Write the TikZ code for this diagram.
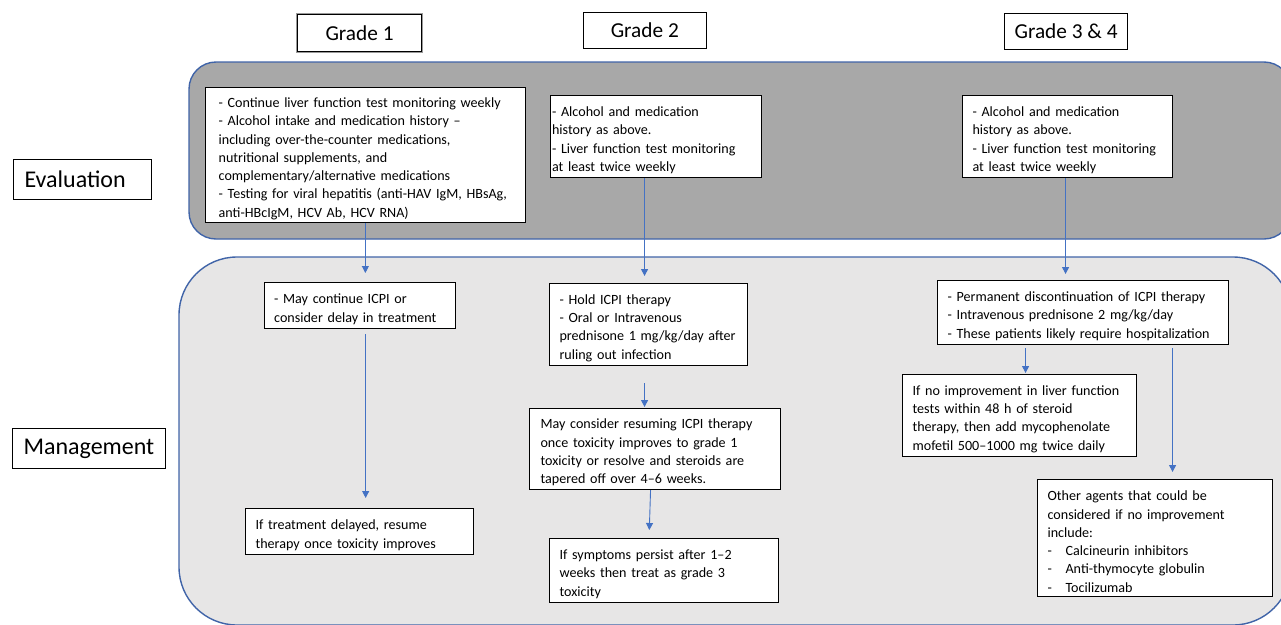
\documentclass[tikz,border=0pt]{standalone}
\usepackage{fontspec}
\setmainfont{Carlito}
\usetikzlibrary{arrows.meta}
\definecolor{evalfill}{HTML}{A8A8A8}
\definecolor{mgmtfill}{HTML}{E7E6E6}
\definecolor{laneline}{RGB}{64,100,168}
\definecolor{arrowblue}{HTML}{4472C4}
\newcommand{\bxt}[2]{\leftskip=#1pt\relax\rule{0pt}{17pt}#2\par}
\newcommand{\sidetxt}[1]{\leftskip=11pt\relax #1\par}
\begin{document}
\begin{tikzpicture}[x=1pt,y=-1pt,
  txtbox/.style={draw=black, line width=1.1pt, fill=white, anchor=north west, align=left,
    inner xsep=0pt, inner ysep=0pt, font=\fontsize{14.1}{18.3}\selectfont},
  hdr/.style={draw=black, line width=1.1pt, fill=white, anchor=north west, inner sep=0pt,
    font=\fontsize{21.3}{25}\selectfont},
  sidelabel/.style={draw=black, line width=1.1pt, fill=white, anchor=north west, align=left,
    inner xsep=0pt, inner ysep=0pt, font=\fontsize{24}{28}\selectfont},
  lane/.style={draw=laneline, line width=1.4pt},
  arr/.style={draw=arrowblue, line width=0.9pt, -{Triangle[width=7pt,length=7pt]}},
  shadowed/.style={preaction={draw=black!40, line width=3.6pt}}
]
\useasboundingbox (0,0) rectangle (1281,624);

% lanes
\path[lane, fill=evalfill, rounded corners=27pt] (189,62) rectangle (1291,239);
\path[lane, fill=mgmtfill, rounded corners=58pt] (179,257) rectangle (1291,625);

% headers
\node[hdr, shadowed, minimum width=124pt, minimum height=37pt] (g1) at (297,14) {Grade 1};
\node[hdr, minimum width=123.5pt, minimum height=36pt] (g2) at (582.5,12) {Grade 2};
\node[hdr, minimum width=123pt, minimum height=36pt] (g3) at (1004,13) {Grade 3 \& 4};
\node[sidelabel, text width=138pt, minimum height=40pt] (ev) at (13,159) {\sidetxt{Evaluation}};
\node[sidelabel, text width=153pt, minimum height=40pt] (mg) at (12,428) {\sidetxt{Management}};

% evaluation boxes
\node[txtbox, text width=320.4pt, minimum height=135pt] (e1) at (204.6,87) {\bxt{13.5}{%
- Continue liver function test monitoring weekly\\
- Alcohol intake and medication history –\\
including over-the-counter medications,\\
nutritional supplements, and\\
complementary/alternative medications\\
- Testing for viral hepatitis (anti-HAV IgM, HBsAg,\\
anti-HBcIgM, HCV Ab, HCV RNA)}};

\node[txtbox, text width=211pt, minimum height=82pt] (e2) at (550,95) {\bxt{1.5}{%
- Alcohol and medication\\
history as above.\\
- Liver function test monitoring\\
at least twice weekly}};

\node[txtbox, text width=210pt, minimum height=82pt] (e3) at (962,95) {\bxt{10}{%
- Alcohol and medication\\
history as above.\\
- Liver function test monitoring\\
at least twice weekly}};

% management boxes
\node[txtbox, text width=191pt, minimum height=46pt] (m1) at (263.6,282) {\bxt{10}{%
- May continue ICPI or\\
consider delay in treatment}};

\node[txtbox, text width=228pt, minimum height=46pt] (m1b) at (245,508) {\bxt{10}{%
If treatment delayed, resume\\
therapy once toxicity improves}};

\node[txtbox, text width=198pt, minimum height=82pt] (m2) at (549,283) {\bxt{10}{%
- Hold ICPI therapy\\
- Oral or Intravenous\\
prednisone 1 mg/kg/day after\\
ruling out infection}};

\node[txtbox, text width=251pt, minimum height=81pt] (m2b) at (529,408) {\bxt{11}{%
May consider resuming ICPI therapy\\
once toxicity improves to grade 1\\
toxicity or resolve and steroids are\\
tapered off over 4–6 weeks.}};

\node[txtbox, text width=229pt, minimum height=64pt] (m2c) at (549,538) {\bxt{10}{%
If symptoms persist after 1–2\\
weeks then treat as grade 3\\
toxicity}};

\node[txtbox, text width=291pt, minimum height=64pt] (m3) at (937,280) {\bxt{10}{%
- Permanent discontinuation of ICPI therapy\\
- Intravenous prednisone 2 mg/kg/day\\
- These patients likely require hospitalization}};

\node[txtbox, text width=234pt, minimum height=82pt] (m3b) at (902,374) {\bxt{10}{%
If no improvement in liver function\\
tests within 48 h of steroid\\
therapy, then add mycophenolate\\
mofetil 500–1000 mg twice daily}};

\node[txtbox, text width=235pt, minimum height=117pt] (m3c) at (1037,479) {\bxt{10}{%
Other agents that could be\\
considered if no improvement\\
include:\\
\makebox[18pt][l]{-}Calcineurin inhibitors\\
\makebox[18pt][l]{-}Anti-thymocyte globulin\\
\makebox[18pt][l]{-}Tocilizumab}};

% connectors
\draw[arr, shorten >=9pt] (e1.south) -- (e1.south |- m1.north);
\draw[arr, shorten >=7pt] ([xshift=-11.5pt]e2.south) -- ([xshift=-11.5pt]e2.south |- m2.north);
\draw[arr, shorten >=6pt] ([xshift=-2pt]e3.south) -- ([xshift=-2pt]e3.south |- m3.north);
\draw[arr, shorten <=5pt, shorten >=10pt] ([xshift=6pt]m1.south) -- ([xshift=6pt]m1.south |- m1b.north);
\draw[arr, shorten <=17pt, shorten >=1pt] ([xshift=-4pt]m2.south) -- ([xshift=-4pt]m2.south |- m2b.north);
\draw[arr, shorten >=8pt] ([xshift=-4.5pt]m2b.south) -- ([xshift=-15pt]m2c.north);
\draw[arr, shorten <=3pt, shorten >=1pt] ([xshift=-57.5pt]m3.south) -- ([xshift=-57.5pt]m3.south |- m3b.north);
\draw[arr, shorten <=3pt, shorten >=7pt] ([xshift=89.5pt]m3.south) -- ([xshift=89.5pt]m3.south |- m3c.north);
\end{tikzpicture}
\end{document}
